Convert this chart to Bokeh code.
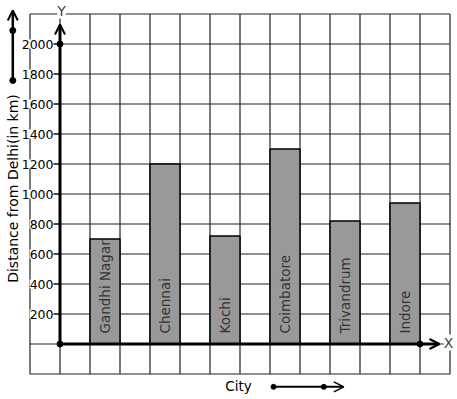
import math
from bokeh.plotting import figure
from bokeh.models import ColumnDataSource, LabelSet, Arrow, OpenHead, Label
from bokeh.core.properties import value
from bokeh.embed import file_html
from bokeh.resources import INLINE

# ---- data ----
cities = ["Gandhi Nagar", "Chennai", "Kochi", "Coimbatore", "Trivandrum", "Indore"]
distances = [700, 1200, 720, 1300, 820, 940]
y_ticks = [200, 400, 600, 800, 1000, 1200, 1400, 1600, 1800, 2000]
y_tick_labels = [str(t) for t in y_ticks]
x_title = "City"
y_title = "Distance from Delhi(in km)"

# ---- layout (pixel geometry of the drawing) ----
W, H = 457, 399
LEFT, TOP = 0, 0              # page position of the figure's top-left corner
OX, OY = 59.5, 343.5          # pixel position of the origin (page coords)
CELL = 30.0                   # pixels per x unit
PPU = 30.0 / 200.0            # pixels per y unit
FONT = "DejaVu Sans"

def dx(px):
    return (px - OX) / CELL

def dy(py):
    return (OY - py) / PPU

p = figure(width=W, height=H, output_backend="svg", toolbar_location=None,
           x_range=(dx(LEFT), dx(LEFT + W)), y_range=(dy(TOP + H), dy(TOP)),
           min_border=0, outline_line_color=None)
p.axis.visible = False
p.grid.visible = False
p.background_fill_color = "white"
p.border_fill_color = "white"

# grid
xs_grid = list(range(-1, 14))
ys_grid = list(range(-200, 2201, 200))
p.segment(x0=xs_grid, x1=xs_grid, y0=-200, y1=2200, line_color="#222222", line_width=1.2)
p.segment(x0=-1, x1=13, y0=ys_grid, y1=ys_grid, line_color="#222222", line_width=1.2)

# bars
centers = [1.5 + 2 * i for i in range(len(cities))]
src = ColumnDataSource(dict(x=centers, top=distances, name=cities))
p.vbar(x="x", width=1, top="top", bottom=0, source=src,
       fill_color="#999999", line_color="black", line_width=1.5)
p.text(x="x", y=dy(333), text="name", source=src, angle=math.pi / 2,
       text_align="left", text_baseline="middle", text_color="#333333",
       text_font=value(FONT), text_font_size="13.5px")

# axes
p.add_layout(Arrow(x_start=0, y_start=0, x_end=0, y_end=dy(24), line_width=3,
                   end=OpenHead(size=10, line_width=2)))
p.add_layout(Arrow(x_start=0, y_start=0, x_end=dx(439), y_end=0, line_width=3,
                   end=OpenHead(size=10, line_width=2)))
p.scatter(x=[0, 0, 12], y=[0, 2000, 0], size=6, color="black")

# y ticks and labels
p.segment(x0=dx(52.5), x1=0, y0=y_ticks, y1=y_ticks, line_color="black", line_width=1.2)
tsrc = ColumnDataSource(dict(x=[dx(53)] * len(y_ticks), y=y_ticks, t=y_tick_labels))
p.add_layout(LabelSet(x="x", y="y", text="t", source=tsrc, text_align="right",
                      text_baseline="middle", text_font=value(FONT),
                      text_font_size="12.5px", text_color="black",
                      background_fill_color="white"))

# axis letters
p.add_layout(Label(x=dx(61), y=dy(10), text="Y", text_align="center", text_baseline="middle",
                   text_font=FONT, text_font_size="14px",
                   background_fill_color="white"))
p.add_layout(Label(x=dx(448), y=dy(342), text="X", text_align="center", text_baseline="middle",
                   text_font=FONT, text_font_size="14px",
                   background_fill_color="white"))

# titles
p.text(x=[dx(12)], y=[dy(188)], text=[y_title], angle=math.pi / 2,
       text_align="center", text_baseline="middle", text_color="black",
       text_font=value(FONT), text_font_size="14px")
p.text(x=[dx(238)], y=[dy(385)], text=[x_title], text_align="center",
       text_baseline="middle", text_color="black",
       text_font=value(FONT), text_font_size="13.5px")

# decorative arrows
p.add_layout(Arrow(x_start=dx(12.3), y_start=dy(80), x_end=dx(12.3), y_end=dy(10), line_width=2.5,
                   end=OpenHead(size=10, line_width=2)))
p.scatter(x=[dx(12.3), dx(12.3)], y=[dy(80), dy(30)], size=6, color="black")
p.add_layout(Arrow(x_start=dx(273), y_start=dy(386.3), x_end=dx(343.3), y_end=dy(386.3), line_width=2,
                   end=OpenHead(size=10, line_width=1.5)))
p.scatter(x=[dx(273), dx(323.3)], y=[dy(386.3), dy(386.3)], size=5, color="black")

open("out.html", "w").write(file_html(p, INLINE))
